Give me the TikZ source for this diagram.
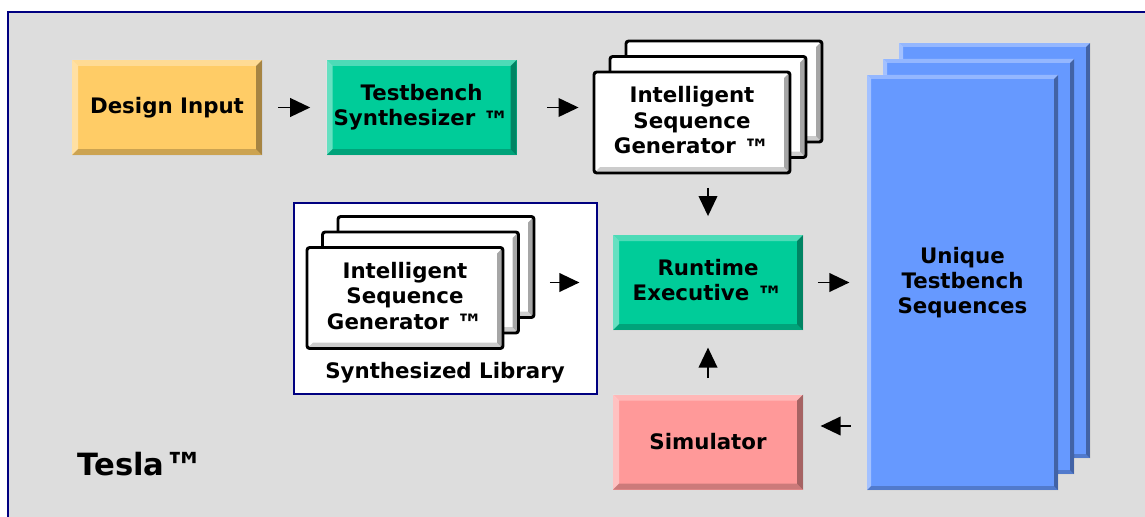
\documentclass[tikz,border=0pt]{standalone}
\usepackage{fontspec}
\setmainfont{DejaVu Sans}
\usepackage{tikz}
\usetikzlibrary{arrows.meta,calc,positioning}
\definecolor{bgrey}{HTML}{DDDDDD}
\definecolor{frameblue}{HTML}{000080}
\definecolor{inputyellow}{HTML}{FFCC66}
\definecolor{tealgreen}{HTML}{00CC99}
\definecolor{simpink}{HTML}{FF9999}
\definecolor{seqblue}{HTML}{6699FF}
\tikzstyle{flow}=[-{Triangle[length=15pt,width=14pt]}, line width=1.2pt]
\newcommand{\tmark}{\raisebox{-3.5pt}{\fontsize{20}{19}\selectfont ™}}

\begin{document}
\begin{tikzpicture}[x=0.75pt,y=-0.75pt,
    bevel/.style={path picture={
      \coordinate (nw) at (path picture bounding box.north west);
      \coordinate (ne) at (path picture bounding box.north east);
      \coordinate (sw) at (path picture bounding box.south west);
      \coordinate (se) at (path picture bounding box.south east);
      \fill[sharp corners,white,opacity=.3] (nw) -- (ne) -- ([shift={(-#1,-#1)}]ne) -- ([shift={(#1,-#1)}]nw) -- cycle;
      \fill[sharp corners,white,opacity=.4] (nw) -- ([shift={(#1,-#1)}]nw) -- ([shift={(#1,#1)}]sw) -- (sw) -- cycle;
      \fill[sharp corners,black,opacity=.35] (ne) -- (se) -- ([shift={(-#1,#1)}]se) -- ([shift={(-#1,-#1)}]ne) -- cycle;
      \fill[sharp corners,black,opacity=.2] (sw) -- (se) -- ([shift={(-#1,#1)}]se) -- ([shift={(#1,#1)}]sw) -- cycle;
    }},
    blok/.style 2 args={rectangle, inner sep=0pt, minimum width=#1*0.75pt,
      minimum height=#2*0.75pt, align=center,
      font=\bfseries\fontsize{16}{19}\selectfont},
    kleur/.style={blok={190}{95}, fill=#1, bevel=4.5pt},
    isg/.style={blok={196}{101}, fill=white, draw=black, line width=2.2pt,
      rounded corners=2pt, bevel=4.5pt},
    seq/.style={blok={191}{415}, fill=seqblue, bevel=3pt}]
  \useasboundingbox (0,0) rectangle (1145,517);

  % frame
  \fill[bgrey] (8,12) rectangle (1145,517);
  \draw[frameblue, line width=2pt] (8,517) -- (8,12) -- (1145,12);

  % first row
  \node[kleur=inputyellow] (design) at (167,107.5) {Design Input};
  \node[kleur=tealgreen]   (synth)  at (421.5,107.5) {Testbench\\Synthesizer \tmark};

  \node[isg] (isgtop3) at (724,91.5) {};
  \node[isg] (isgtop2) at (708,107) {};
  \node[isg] (isgtop)  at (692,122.5) {Intelligent\\Sequence\\Generator \tmark};

  % library
  \node[draw=frameblue, fill=white, line width=1.2pt, inner sep=0pt,
        minimum width=303*0.75pt, minimum height=191*0.75pt] (lib) at (445.5,298.5) {};
  \node[isg] (isglib3) at (436,267) {};
  \node[isg] (isglib2) at (420.5,282.5) {};
  \node[isg] (isglib)  at (405,298) {Intelligent\\Sequence\\Generator \tmark};
  \node[font=\bfseries\fontsize{16}{19}\selectfont] (libname) at (445,373) {Synthesized Library};

  \node[kleur=tealgreen] (runtime) at (708,282.5) {Runtime\\Executive \tmark};
  \node[kleur=simpink]   (sim)     at (708,442)   {Simulator};

  % sequences
  \node[seq] (seq3) at (994.5,250.5) {};
  \node[seq] (seq2) at (978.5,266.5) {};
  \node[seq] (seq)  at (962.5,282.5) {Unique\\Testbench\\Sequences};

  \node[font=\bfseries\fontsize{23}{27}\selectfont] (tesla) at (141,467)
    {Tesla\raisebox{-5pt}{\fontsize{30}{27}\selectfont ™}};

  % arrows
  \draw[flow, shorten <=12pt, shorten >=12pt] (design) -- (synth);
  \draw[flow, shorten <=23pt, shorten >=10.5pt] (synth.east) -- (synth.east -| isgtop.west);
  \draw[flow, shorten <=10pt, shorten >=14pt] (isgtop.south -| runtime.north) -- (runtime.north);
  \draw[flow, shorten <=34pt, shorten >=25pt] (isglib.east |- runtime.west) -- (runtime.west);
  \draw[flow, shorten <=11pt, shorten >=13pt] (runtime.east) -- (runtime.east -| seq.west);
  \coordinate (simin) at ([yshift=12pt]sim.east);
  \draw[flow, shorten <=12pt, shorten >=13pt] (simin -| seq.west) -- (simin);
  \draw[flow, shorten <=12pt, shorten >=13pt] (sim) -- (runtime);
\end{tikzpicture}
\end{document}
